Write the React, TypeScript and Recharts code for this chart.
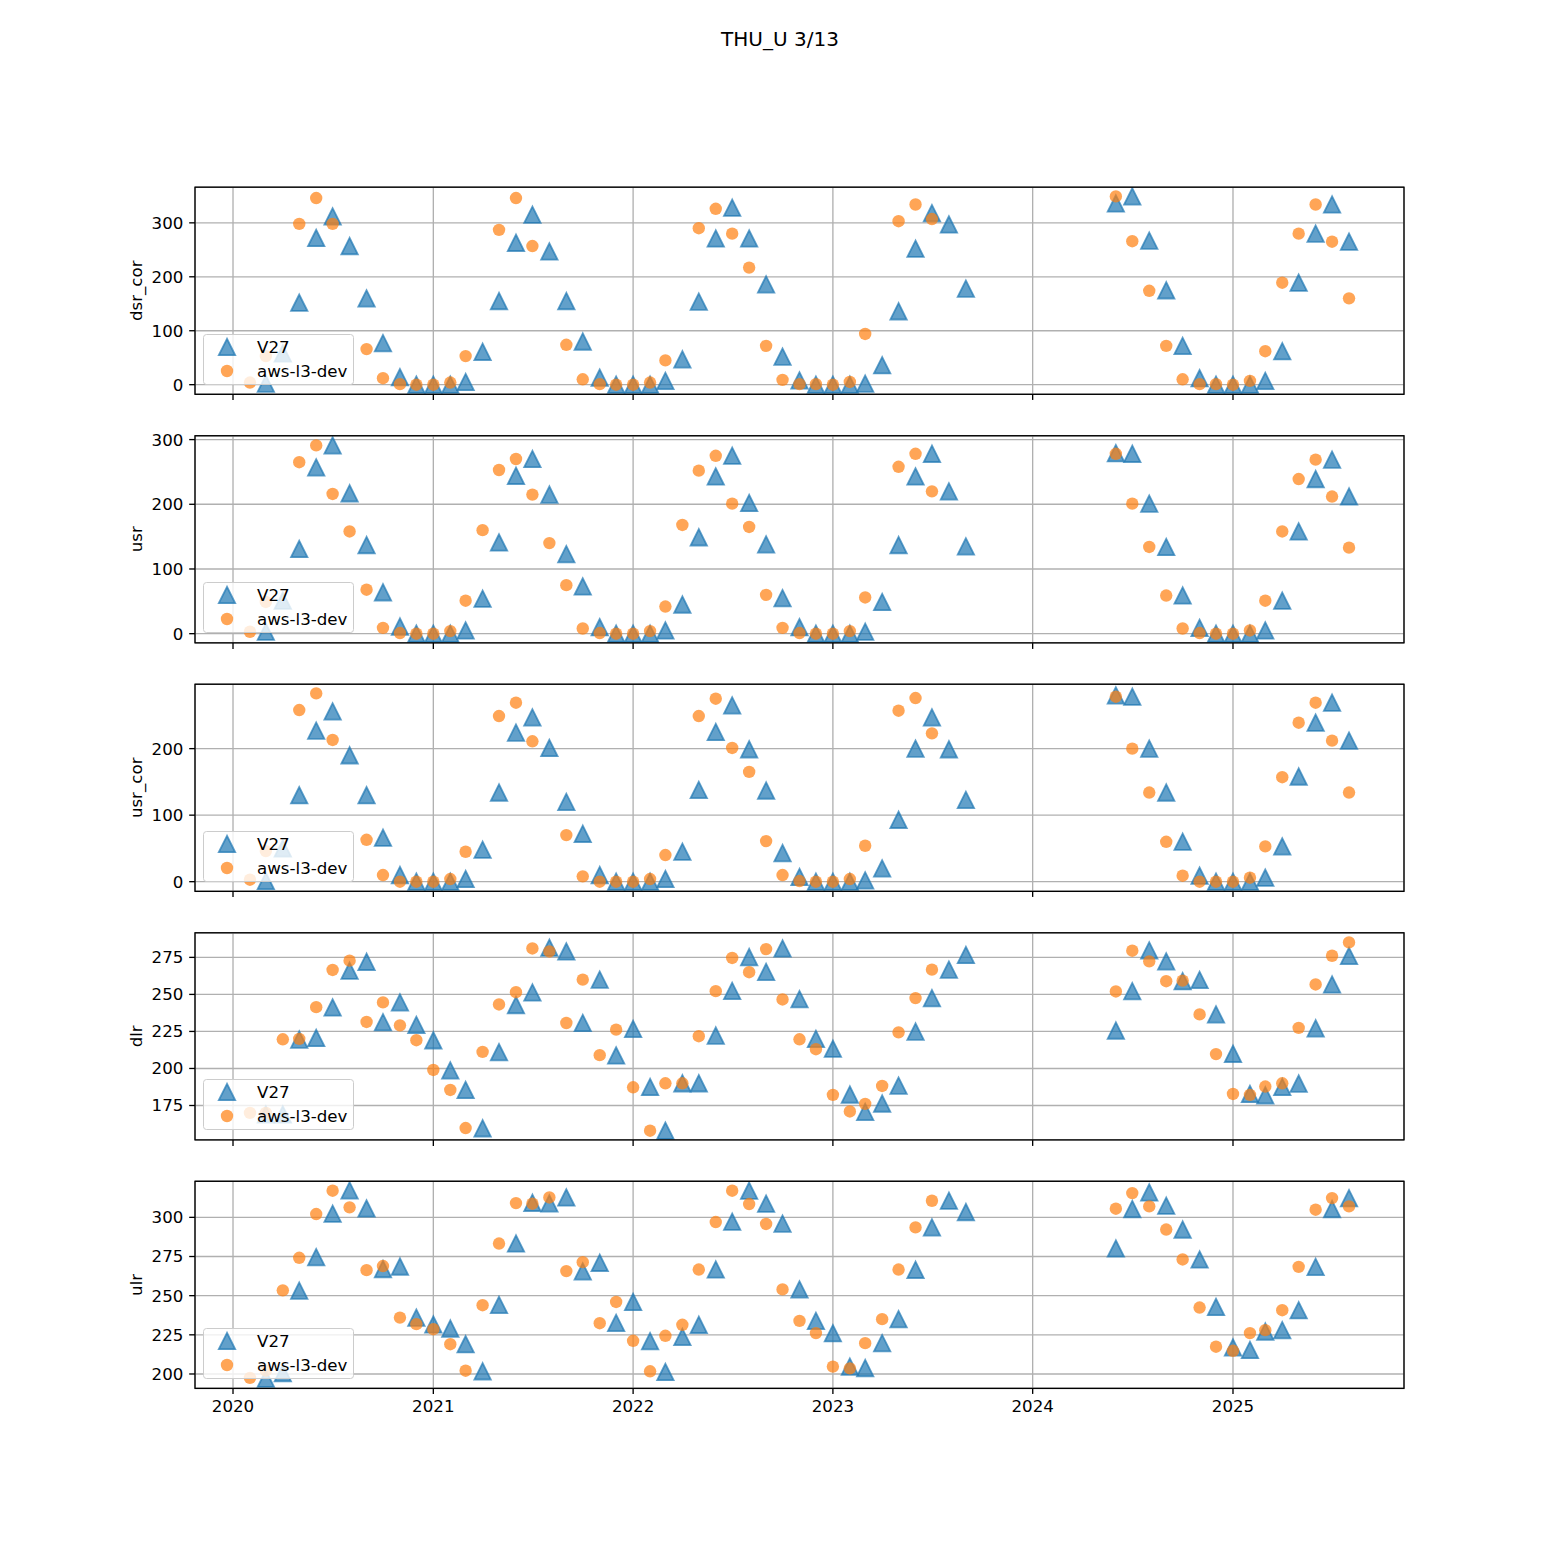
import { ScatterChart, Scatter, XAxis, YAxis, CartesianGrid } from 'recharts'

// one sample per month; nothing exists between 2023-10 and 2024-05
const months = [
  '2020-02', '2020-03', '2020-04', '2020-05', '2020-06', '2020-07', '2020-08', '2020-09', '2020-10', '2020-11', '2020-12',
  '2021-01', '2021-02', '2021-03', '2021-04', '2021-05', '2021-06', '2021-07', '2021-08', '2021-09', '2021-10', '2021-11', '2021-12',
  '2022-01', '2022-02', '2022-03', '2022-04', '2022-05', '2022-06', '2022-07', '2022-08', '2022-09', '2022-10', '2022-11', '2022-12',
  '2023-01', '2023-02', '2023-03', '2023-04', '2023-05', '2023-06', '2023-07', '2023-08', '2023-09',
  '2024-06', '2024-07', '2024-08', '2024-09', '2024-10', '2024-11', '2024-12',
  '2025-01', '2025-02', '2025-03', '2025-04', '2025-05', '2025-06', '2025-07', '2025-08'
]

type Val = number | null

const dsrCorV27: Val[] = [
  null, 2, 58, 152, 272, 312, 257, 160, 77, 14, 0,
  0, 0, 5, 61, 155, 263, 315, 247, 155, 80, 13, 0,
  0, 0, 7, 47, 154, 271, 328, 271, 186, 52, 8, 0,
  0, 0, 2, 36, 136, 252, 318, 297, 178,
  336, 349, 267, 175, 72, 12, 0,
  0, 0, 7, 62, 189, 280, 334, 265
]
const dsrCorAws: Val[] = [
  4, 53, null, 298, 346, 298, null, 66, 12, 1, 0,
  0, 4, 53, null, 287, 346, 257, null, 74, 10, 1, 0,
  0, 4, 45, null, 290, 326, 280, 217, 72, 9, 1, 1,
  0, 5, 94, null, 303, 334, 307, null, null,
  349, 266, 174, 72, 10, 1, 1,
  0, 7, 62, 189, 280, 334, 265, 160
]

const usrV27: Val[] = [
  null, 3, 51, 131, 257, 291, 217, 137, 64, 11, 0,
  0, 0, 5, 54, 141, 244, 270, 215, 123, 73, 10, 0,
  0, 0, 5, 45, 149, 243, 275, 202, 138, 55, 10, 0,
  0, 0, 3, 49, 137, 243, 278, 220, 135,
  279, 278, 201, 134, 59, 9, 0,
  0, 0, 5, 51, 158, 239, 269, 212
]
const usrAws: Val[] = [
  3, 49, null, 265, 291, 216, 158, 68, 9, 1, 0,
  0, 4, 51, 160, 253, 270, 215, 140, 75, 8, 1, 0,
  0, 4, 42, 168, 252, 275, 201, 165, 60, 9, 1, 0,
  0, 4, 56, null, 258, 278, 220, null, null,
  278, 201, 134, 59, 8, 1, 0,
  0, 5, 51, 158, 239, 269, 212, 133
]

const usrCorV27: Val[] = [
  null, 1, 50, 130, 227, 256, 190, 130, 66, 10, 0,
  0, 0, 4, 48, 134, 224, 247, 201, 120, 72, 10, 0,
  0, 0, 4, 45, 138, 225, 265, 199, 137, 43, 7, 0,
  0, 0, 2, 20, 93, 200, 247, 199, 123,
  280, 278, 200, 134, 60, 9, 0,
  0, 0, 6, 53, 158, 239, 269, 212
]
const usrCorAws: Val[] = [
  3, 46, null, 258, 283, 213, null, 63, 10, 0, 0,
  0, 4, 45, null, 249, 269, 211, null, 70, 8, 0, 0,
  0, 4, 40, null, 249, 275, 201, 165, 61, 10, 1, 0,
  0, 4, 54, null, 257, 276, 223, null, null,
  278, 200, 134, 60, 9, 0, 0,
  0, 6, 53, 157, 239, 269, 212, 134
]

const dlrV27: Val[] = [
  null, 169, 169, 219.5, 220.6, 241.2, 266, 272, 231.2, 244.6, 229.4,
  219, 198.7, 185.5, 159.6, 211, 242.8, 251.3, 281.5, 279, 230.7, 260, 208.8,
  226.7, 187.5, 158, 190, 190, 222.2, 252.4, 275.2, 265.2, 281, 246.8, 220,
  213.3, 182.4, 170.7, 176.3, 188.4, 224.9, 247.5, 266.7, 276.6,
  225.6, 252.2, 279.7, 272.3, 258.9, 259.8, 236.5,
  209.9, 182.8, 181.9, 187.5, 189.8, 227.1, 256.7, 276
]
const dlrAws: Val[] = [
  170, 170, 219.7, 220, 241.4, 266.5, 272.8, 231.4, 244.6, 229.1, 219.1,
  199, 185.5, 159.8, 211.2, 243.2, 251.5, 281, 279, 230.7, 260, 209, 226.2,
  187.3, 158, 190, 190, 221.8, 252.2, 274.6, 265, 280.6, 246.6, 219.7, 213,
  182.2, 171, 176.1, 188.2, 224.4, 247.5, 266.7, null, null,
  252, 279.5, 272.3, 258.9, 259.3, 236.5, 209.7,
  182.8, 182.2, 187.8, 190, 227.4, 256.7, 276.1, 285.1
]

const ulrV27: Val[] = [
  null, 197, 200.6, 253.2, 274.6, 302.3, 317.2, 305.7, 267, 268.6, 236,
  231.6, 229, 219, 201.7, 244.1, 283.3, 309.3, 308.9, 312.7, 265.5, 271, 232.6,
  246, 221, 201.3, 223.7, 231.4, 266.7, 297.2, 317, 308.7, 296, 254, 233.9,
  226, 204.7, 203.8, 219.7, 235, 266.5, 293.6, 310.6, 303.4,
  280.1, 305.3, 315.9, 307.4, 292.2, 273.1, 242.8,
  217, 215.3, 227.1, 228, 240.7, 268.4, 305.3, 312.3
]
const ulrAws: Val[] = [
  197.5, 202.1, 253.4, 274.2, 302.1, 317, 306.4, 266.3, 268.9, 236, 231.8,
  228.6, 219, 202.1, 243.9, 283.3, 309.1, 308.7, 312.7, 265.7, 271.4, 232.4, 246,
  221.2, 201.7, 224.4, 231.4, 266.7, 297, 317, 308.5, 295.8, 254, 233.9, 226.1,
  204.7, 203.6, 219.7, 235, 266.7, 293.6, 310.6, null, null,
  305.5, 315.5, 307, 292.2, 273.1, 242.4, 217.4,
  214.8, 226.1, 228, 240.7, 268.4, 304.9, 312.3, 307
]

const yearTicks = [2020, 2021, 2022, 2023, 2024, 2025]

const panels = [
  { label: 'dsr_cor', v27: dsrCorV27, aws: dsrCorAws, yTicks: [0, 100, 200, 300] },
  { label: 'usr', v27: usrV27, aws: usrAws, yTicks: [0, 100, 200, 300] },
  { label: 'usr_cor', v27: usrCorV27, aws: usrCorAws, yTicks: [0, 100, 200] },
  { label: 'dlr', v27: dlrV27, aws: dlrAws, yTicks: [175, 200, 225, 250, 275] },
  { label: 'ulr', v27: ulrV27, aws: ulrAws, yTicks: [200, 225, 250, 275, 300] }
]

const FONT = 'DejaVu Sans'
const BLUE = '#1f77b4'
const ORANGE = '#ff7f0e'
const FS = 16.67

// matplotlib default subplot box on a 1560px figure
const PLOT_LEFT = 195
const PLOT_RIGHT = 1404
const ROW_H = 1201.2 / 5.8
const ROW_STEP = ROW_H * 1.2
const FIRST_TOP = 187.2

const toDay = (ym: string) => {
  const [y, m] = ym.split('-').map(Number)
  return Date.UTC(y, m - 1, 1) / 86400000
}

const firstDay = toDay(months[0])
const lastDay = toDay(months[months.length - 1])
const xPad = (lastDay - firstDay) * 0.05
const xDomain = [firstDay - xPad, lastDay + xPad]
const xTicks = yearTicks.map(y => Date.UTC(y, 0, 1) / 86400000)

const toPoints = (vals: Val[]) =>
  months
    .map((m, i) => ({ x: toDay(m), y: vals[i] }))
    .filter(p => p.y !== null)

const paddedDomain = (a: Val[], b: Val[]) => {
  const vals = [...a, ...b].filter((v): v is number => v !== null)
  const lo = Math.min(...vals)
  const hi = Math.max(...vals)
  const pad = (hi - lo) * 0.05
  return [lo - pad, hi + pad]
}

const Triangle = (props: any) => {
  const { cx, cy } = props
  if (cx == null || cy == null) return null
  const h = 8.2
  return (
    <path
      d={`M${cx},${cy - h}L${cx - h},${cy + h}L${cx + h},${cy + h}Z`}
      fill={BLUE}
      fillOpacity={0.7}
      stroke={BLUE}
      strokeOpacity={0.7}
      strokeWidth={1.8}
    />
  )
}

const Dot = (props: any) => {
  const { cx, cy } = props
  if (cx == null || cy == null) return null
  return <circle cx={cx} cy={cy} r={6.2} fill={ORANGE} fillOpacity={0.7} />
}

const tickStyle = { fill: '#000', fontSize: FS, fontFamily: FONT }
const tickLineStyle = { stroke: '#000', strokeWidth: 1.33 }

function Panel ({ idx }: { idx: number }) {
  const p = panels[idx]
  const top = FIRST_TOP + idx * ROW_STEP
  const isLast = idx === panels.length - 1

  return (
    <div style={{ position: 'absolute', left: 0, top: top - 10 }}>
      <ScatterChart
        width={1560}
        height={ROW_H + 60}
        margin={{ top: 10, right: 1560 - PLOT_RIGHT, bottom: 10, left: PLOT_LEFT - 60 }}
      >
        <CartesianGrid stroke='#b0b0b0' strokeWidth={1.33} />
        <XAxis
          type='number'
          dataKey='x'
          domain={xDomain}
          ticks={xTicks}
          interval={0}
          allowDataOverflow
          height={40}
          axisLine={false}
          tickSize={5.83}
          tickMargin={5.83}
          tickLine={tickLineStyle}
          tick={tickStyle}
          tickFormatter={(v: number) => isLast ? String(new Date(v * 86400000).getUTCFullYear()) : ''}
        />
        <YAxis
          type='number'
          dataKey='y'
          domain={paddedDomain(p.v27, p.aws)}
          ticks={p.yTicks}
          interval={0}
          allowDataOverflow
          width={60}
          axisLine={false}
          tickSize={5.83}
          tickMargin={5.83}
          tickLine={tickLineStyle}
          tick={tickStyle}
        />
        <Scatter data={toPoints(p.v27)} shape={Triangle} isAnimationActive={false} />
        <Scatter data={toPoints(p.aws)} shape={Dot} isAnimationActive={false} />
      </ScatterChart>
    </div>
  )
}

function Legend ({ idx }: { idx: number }) {
  const bottom = FIRST_TOP + idx * ROW_STEP + ROW_H
  return (
    <svg
      width={152}
      height={52}
      style={{ position: 'absolute', left: 202.5, top: bottom - 60.5 }}
    >
      <rect x={0.5} y={0.5} width={150} height={50} rx={3} fill='#fff' fillOpacity={0.8} stroke='#cccccc' />
      <Triangle cx={24} cy={13} />
      <Dot cx={24} cy={37} />
      <text x={54} y={13} dominantBaseline='central' fontSize={FS} fontFamily={FONT}>V27</text>
      <text x={54} y={37} dominantBaseline='central' fontSize={FS} fontFamily={FONT}>aws-l3-dev</text>
    </svg>
  )
}

export default function App () {
  return (
    <div style={{ position: 'absolute', left: 0, top: 0, width: 1560, height: 1560, background: '#fff', fontFamily: FONT }}>
      {panels.map((_, i) => <Panel key={i} idx={i} />)}

      <svg width={1560} height={1560} style={{ position: 'absolute', left: 0, top: 0, pointerEvents: 'none' }}>
        <text x={780} y={45.5} textAnchor='middle' fontSize={20} fontFamily={FONT}>THU_U 3/13</text>
        {panels.map((p, i) => {
          const top = FIRST_TOP + i * ROW_STEP
          const cy = top + ROW_H / 2
          return (
            <g key={p.label}>
              <rect x={PLOT_LEFT} y={top} width={PLOT_RIGHT - PLOT_LEFT} height={ROW_H} fill='none' stroke='#000' strokeWidth={1.33} />
              <text
                x={137}
                y={cy}
                transform={`rotate(-90 137 ${cy})`}
                textAnchor='middle'
                dominantBaseline='central'
                fontSize={FS}
                fontFamily={FONT}
              >
                {p.label}
              </text>
            </g>
          )
        })}
      </svg>

      {panels.map((_, i) => <Legend key={i} idx={i} />)}
    </div>
  )
}
